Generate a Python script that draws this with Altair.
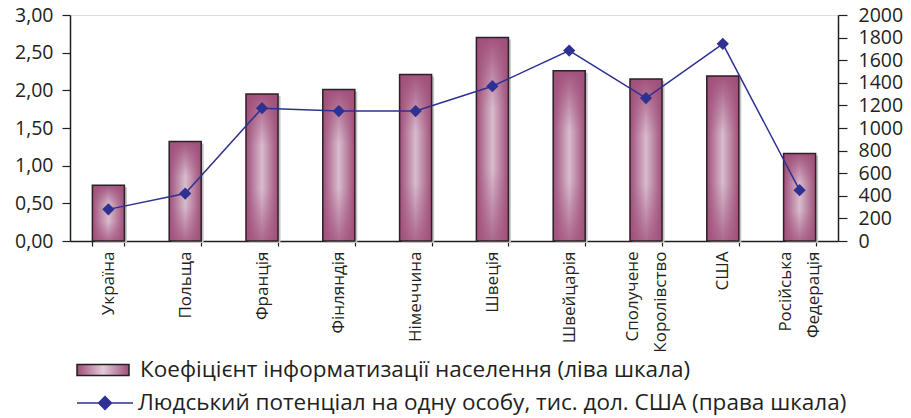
import altair as alt
import pandas as pd

categories = ["Україна", "Польща", "Франція", "Фінляндія", "Німеччина", "Швеція",
              "Швейцарія", "Сполучене Королівство", "США", "Російська Федерація"]
coef = [0.74, 1.32, 1.95, 2.01, 2.21, 2.70, 2.26, 2.15, 2.19, 1.16]
potential = [280, 420, 1175, 1150, 1150, 1370, 1685, 1265, 1745, 450]

label_bar = "Коефіцієнт інформатизації населення (ліва шкала)"
label_line = "Людський потенціал на одну особу, тис. дол. США  (права шкала)"

left_ticks = [0, 0.5, 1.0, 1.5, 2.0, 2.5, 3.0]
right_ticks = [0, 200, 400, 600, 800, 1000, 1200, 1400, 1600, 1800, 2000]

df = pd.DataFrame({"country": categories, "k": coef, "p": potential,
                   "s1": [label_bar] * len(categories), "s2": [label_line] * len(categories)})

FONT = "Open Sans"
TXT = "#231f20"
NAVY = "#2e3192"

x_enc = alt.X("country:N", sort=categories, title=None,
              scale=alt.Scale(paddingInner=0.583, paddingOuter=0.2915),
              axis=alt.Axis(labelAngle=-90, labelExpr="split(datum.label, ' ')",
                            labelOffset=alt.ExprRef("indexof(datum.label, ' ') > 0 ? -14 : 0"),
                            labelFontSize=17, labelLineHeight=28, labelPadding=5,
                            tickBand="extent", tickSize=5, tickColor=TXT, domainColor=TXT,
                            domainWidth=1.5, tickWidth=1.2, labelColor=TXT, labelFont=FONT,
                            labelLimit=300))

y_left = alt.Y("k:Q", title=None, scale=alt.Scale(domain=[0, 3], nice=False),
               axis=alt.Axis(orient="left", values=left_ticks, grid=False,
                             labelExpr="replace(format(datum.value, '.2f'), '.', ',')",
                             labelFontSize=19.5, labelFont=FONT, labelColor=TXT,
                             tickSize=8, labelPadding=9, tickColor=TXT, domainColor=TXT,
                             domainWidth=1.5, tickWidth=1.2, labelOverlap=False))

y_right = alt.Y("p:Q", title=None, scale=alt.Scale(domain=[0, 2000], nice=False),
                axis=alt.Axis(orient="right", values=right_ticks, grid=False, format="d",
                              labelFontSize=19.5, labelFont=FONT, labelColor=TXT,
                              tickSize=9, labelPadding=11, tickColor=TXT, domainColor=TXT,
                              domainWidth=1.5, tickWidth=1.2, labelOverlap=False))

grad_h = alt.Gradient(gradient="linear", x1=0, x2=1, y1=0, y2=0, stops=[
    alt.GradientStop(color="#a04e79", offset=0),
    alt.GradientStop(color="#d8bccd", offset=0.5),
    alt.GradientStop(color="#a04e79", offset=1)])
grad_v = alt.Gradient(gradient="linear", x1=0, x2=0, y1=0, y2=1, stops=[
    alt.GradientStop(color="rgba(160,78,121,0.95)", offset=0),
    alt.GradientStop(color="rgba(160,78,121,0)", offset=0.35),
    alt.GradientStop(color="rgba(160,78,121,0)", offset=0.65),
    alt.GradientStop(color="rgba(160,78,121,0.75)", offset=1)])

swatch_expr = ("{gradient: 'linear', x1: 0, y1: 0, x2: 1, y2: 0, stops: ["
               "{offset: 0, color: '#a04e79'}, {offset: 0.5, color: '#e2ccd9'}, "
               "{offset: 1, color: '#a04e79'}]}")

base = alt.Chart(df)

shadow = base.mark_bar(color="#c4c4c4", xOffset=2.5, yOffset=2).encode(x=x_enc, y=y_left)
legend_bar = base.mark_bar().encode(
    x=x_enc, y=y_left,
    fill=alt.Fill("s1:N", scale=alt.Scale(domain=[label_bar], range=[alt.ExprRef(swatch_expr)]),
                  legend=alt.Legend(title=None, orient="none", legendX=6, legendY=328,
                                    symbolType="M-1,-0.21H1V0.21H-1Z", symbolSize=2704,
                                    symbolStrokeColor="#231f20", symbolStrokeWidth=1.5,
                                    labelFontSize=22.5, labelFont=FONT, labelColor=TXT,
                                    labelOffset=10, labelLimit=900, padding=0)))
bars_h = base.mark_bar(fill=grad_h).encode(x=x_enc, y=y_left)
bars_v = base.mark_bar(fill=grad_v, stroke="#2a2226", strokeWidth=1.5).encode(x=x_enc, y=y_left)

bar_layer = alt.layer(shadow, legend_bar, bars_h, bars_v)

line = base.mark_line(strokeWidth=1.5).encode(
    x=x_enc, y=y_right,
    stroke=alt.Stroke("s2:N", scale=alt.Scale(domain=[label_line], range=[NAVY]),
                      legend=alt.Legend(title=None, orient="none", legendX=6, legendY=359,
                                        symbolType="M-1,0H1M0,-0.23L0.23,0L0,0.23L-0.23,0Z",
                                        symbolSize=3136, symbolFillColor=NAVY,
                                        symbolStrokeColor=NAVY, symbolStrokeWidth=1.5,
                                        labelFontSize=22.5, labelFont=FONT, labelColor=TXT,
                                        labelOffset=4, labelLimit=900, padding=0)))
points = base.mark_point(shape="diamond", filled=True, size=150, color=NAVY, opacity=1).encode(
    x=x_enc, y=y_right)
line_layer = alt.layer(line, points)

chart = alt.layer(bar_layer, line_layer).resolve_scale(y="independent").properties(
    width=768, height=226,
    autosize=alt.AutoSizeParams(type="none"),
    padding={"left": 62, "top": 7, "right": 65, "bottom": 200},
).configure_view(stroke="#8c96a0", strokeWidth=1.5).configure(background="white")

chart.save("out.html", embed_options={"renderer": "svg", "actions": False})
